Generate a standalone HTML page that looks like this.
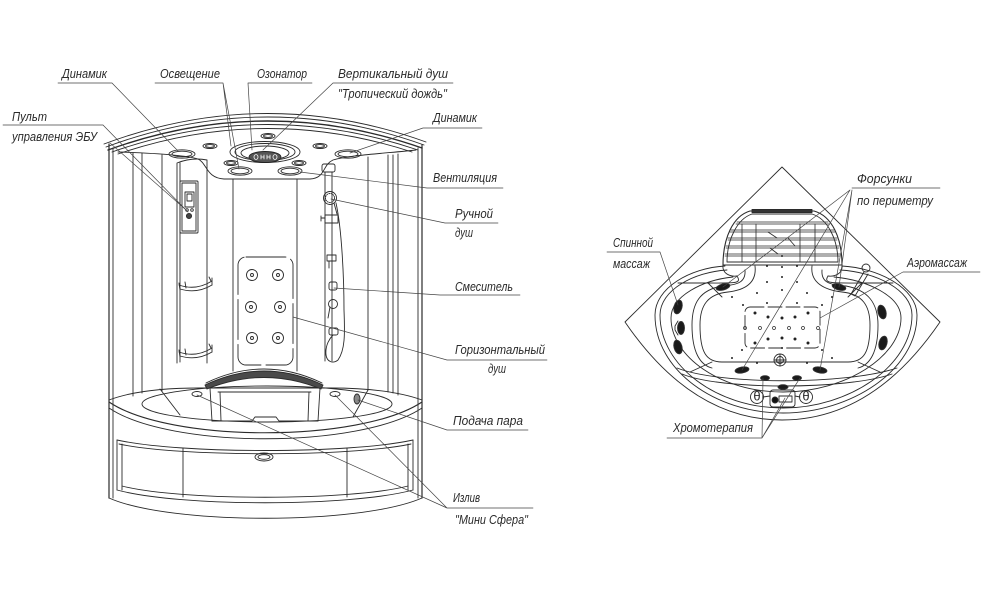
<!DOCTYPE html>
<html><head><meta charset="utf-8"><style>
html,body{margin:0;padding:0;background:#fff;}
svg{display:block}
text{font-family:"Liberation Sans Narrow","Liberation Sans",sans-serif;font-style:italic;font-size:13px;fill:#2a2a2a}
</style></head><body>
<svg width="1000" height="600" viewBox="0 0 1000 600" xmlns="http://www.w3.org/2000/svg">
<rect width="1000" height="600" fill="#fff"/>
<g fill="none" stroke="#2b2b2b" stroke-width="0.9" stroke-linejoin="round" stroke-linecap="round">
<!-- ===== CABIN ROOF ===== -->
<path d="M104,144 Q265,84 426,142"/>
<path d="M106,147 Q265,88 424,145"/>
<path d="M108,150 Q265,93 422,148" stroke-width="1.4"/>
<path d="M112,152 Q265,98 418,150"/>
<path d="M118,154 Q265,104 412,152"/>
<!-- ceiling front edge -->
<path d="M118,152 C 150,153 185,155 198,159 C 207,163 206,178 224,179 L 310,179 C 326,178 322,165 333,160 C 350,155 390,153 416,150"/>
<!-- ceiling elements -->
<ellipse cx="182" cy="154" rx="13" ry="4.2"/><ellipse cx="182" cy="154" rx="10" ry="2.8"/>
<ellipse cx="348" cy="154" rx="13" ry="4.2"/><ellipse cx="348" cy="154" rx="10" ry="2.8"/>
<ellipse cx="240" cy="171" rx="12" ry="4.2"/><ellipse cx="240" cy="171" rx="9" ry="2.8"/>
<ellipse cx="290" cy="171" rx="12" ry="4.2"/><ellipse cx="290" cy="171" rx="9" ry="2.8"/>
<ellipse cx="210" cy="146" rx="7" ry="2.5"/><ellipse cx="210" cy="146" rx="4.5" ry="1.4"/>
<ellipse cx="268" cy="136" rx="7" ry="2.5"/><ellipse cx="268" cy="136" rx="4.5" ry="1.4"/>
<ellipse cx="320" cy="146" rx="7" ry="2.5"/><ellipse cx="320" cy="146" rx="4.5" ry="1.4"/>
<ellipse cx="231" cy="163" rx="7" ry="2.5"/><ellipse cx="231" cy="163" rx="4.5" ry="1.4"/>
<ellipse cx="299" cy="163" rx="7" ry="2.5"/><ellipse cx="299" cy="163" rx="4.5" ry="1.4"/>
<!-- ozonator / tropical shower -->
<ellipse cx="265" cy="152" rx="35" ry="10.5"/>
<ellipse cx="265" cy="152" rx="30" ry="8.5"/>
<ellipse cx="265" cy="153" rx="24" ry="7"/>
<ellipse cx="265" cy="157" rx="16" ry="5.5" fill="#555" stroke="#222"/>
<g stroke="#fff" stroke-width="0.8"><ellipse cx="256" cy="157" rx="2" ry="2.4"/><line x1="261" y1="155" x2="261" y2="159"/><line x1="264" y1="155" x2="264" y2="159"/><line x1="261" y1="157" x2="264" y2="157"/><line x1="267" y1="155" x2="267" y2="159"/><line x1="270" y1="155" x2="270" y2="159"/><line x1="267" y1="157" x2="270" y2="157"/><ellipse cx="275" cy="157" rx="2" ry="2.4"/></g>
<!-- ===== CABIN VERTICALS ===== -->
<line x1="109" y1="144" x2="109" y2="498" stroke-width="1.2"/>
<line x1="113" y1="148" x2="113" y2="498"/>
<line x1="133" y1="153" x2="133" y2="396"/>
<line x1="142" y1="153" x2="142" y2="393"/>
<line x1="162" y1="155" x2="162" y2="391"/>
<path d="M177,363 L177,163 Q192,157 207,160 L207,363"/>
<line x1="180" y1="163" x2="180" y2="362"/>
<line x1="233" y1="179" x2="233" y2="371"/>
<line x1="297" y1="179" x2="297" y2="371"/>
<line x1="368" y1="157" x2="368" y2="390"/>
<line x1="388" y1="155" x2="388" y2="392"/>
<line x1="393" y1="155" x2="393" y2="393"/>
<line x1="398" y1="154" x2="398" y2="395"/>
<line x1="418" y1="148" x2="418" y2="498"/>
<line x1="422" y1="145" x2="422" y2="498" stroke-width="1.2"/>
<!-- console -->
<rect x="180" y="181" width="18" height="52" rx="1"/>
<rect x="182" y="183" width="14" height="48"/>
<rect x="185" y="192" width="9" height="15"/>
<rect x="187" y="194" width="5" height="7"/>
<circle cx="187" cy="210" r="1.3"/><circle cx="192" cy="210" r="1.3"/>
<circle cx="189" cy="216" r="2.6" fill="#444"/>
<!-- shelves -->
<path d="M179,285 Q196,291 212,281"/><path d="M180,289 Q197,294 212,285"/><path d="M179,283 L180,290 M212,278 L212,285 M209,277 L211,281 M185,282 L186,288"/>
<path d="M179,352 Q196,358 212,348"/><path d="M180,356 Q197,361 212,352"/><path d="M179,350 L180,357 M212,345 L212,352 M209,344 L211,348 M185,349 L186,355"/>
<!-- nozzle panel -->
<rect x="238" y="257" width="55" height="108" rx="8" stroke-dasharray="40 5"/>
<g>
<circle cx="252" cy="275" r="5.5"/><circle cx="252" cy="275" r="1.5"/>
<circle cx="278" cy="275" r="5.5"/><circle cx="278" cy="275" r="1.5"/>
<circle cx="251" cy="307" r="5.5"/><circle cx="251" cy="307" r="1.5"/>
<circle cx="280" cy="307" r="5.5"/><circle cx="280" cy="307" r="1.5"/>
<circle cx="252" cy="338" r="5.5"/><circle cx="252" cy="338" r="1.5"/>
<circle cx="278" cy="338" r="5.5"/><circle cx="278" cy="338" r="1.5"/>
</g>
<!-- shower rail -->
<rect x="322" y="164" width="13" height="8" rx="2"/>
<line x1="325" y1="172" x2="325" y2="361"/>
<line x1="332" y1="172" x2="332" y2="361"/>
<circle cx="330" cy="198" r="6.5"/><circle cx="330" cy="198" r="4.5" stroke-dasharray="1 1.2"/>
<path d="M334,203 L337,214"/>
<rect x="325" y="215" width="13" height="8"/><path d="M321,218 L325,218 M321,216 L321,221"/>
<rect x="327" y="255" width="9" height="6"/><line x1="329" y1="261" x2="329" y2="268"/>
<rect x="329" y="282" width="8" height="8" rx="2"/>
<circle cx="333" cy="304" r="4.5"/><path d="M330,307 L328,318"/>
<rect x="329" y="328" width="9" height="7" rx="2"/>
<path d="M336,203 C 342,230 344,280 344,310 C 345,335 345,350 338,360 C 333,364 327,362 326,355 C 325,345 330,338 333,335"/>
<!-- ===== TUB (left) ===== -->
<path d="M109,400 C 130,392 160,388 200,388 L 330,388 C 370,388 400,392 422,400"/>
<ellipse cx="267" cy="404" rx="125" ry="18"/>
<path d="M160,389 L180,415"/><path d="M368,390 L353,417"/>
<path d="M109,402 C 170,443 360,443 422,402" stroke-width="1.1"/>
<path d="M109,408 C 170,449 360,449 422,408"/>
<!-- seat -->
<path d="M205,385 Q264,357 323,385 L 321,389 Q264,366 207,389 Z" fill="#4a4a4a"/>
<path d="M206,383 Q264,355 322,383"/>
<path d="M210,388 L212,421 M320,388 L318,421 M220,392 L221,421 M309,392 L308,421 M218,392 L311,392"/>
<path d="M212,421 L252,421 L255,417 L276,417 L279,421 L318,421"/>
<ellipse cx="197" cy="394" rx="5" ry="2.5"/>
<ellipse cx="335" cy="394" rx="5" ry="2.5"/>
<ellipse cx="357" cy="399" rx="3" ry="5" fill="#888"/>
<!-- skirt -->
<path d="M117,440 C 180,454 350,454 413,440"/>
<path d="M119,444 C 180,457 350,457 411,444"/>
<path d="M117,440 L117,490 M122,444 L122,490 M413,440 L413,490 M408,444 L408,490"/>
<path d="M122,486 C 180,501 350,501 408,486"/>
<path d="M117,490 C 180,507 350,507 413,490"/>
<path d="M183,448 L183,497 M347,448 L347,497"/>
<path d="M109,498 C 170,525 360,525 422,498"/>
<ellipse cx="264" cy="457" rx="9" ry="4"/><ellipse cx="264" cy="457" rx="6" ry="2.3"/>
<!-- ===== LEFT LEADERS ===== -->
<g stroke-width="0.7" stroke="#444">
<path d="M58,83 L112,83 L178,151"/>
<path d="M155,83 L223,83 L231,146 M223,83 L239,169"/>
<path d="M248,83 L312,83 M248,83 L252,150"/>
<path d="M453,83 L333,83 L263,150"/>
<path d="M482,128 L423,128 L350,153"/>
<path d="M3,125 L103,125 L188,212"/>
<path d="M110,143 L185,209"/>
<path d="M503,188 L427,188 L300,172"/>
<path d="M498,223 L445,223 L331,199"/>
<path d="M520,295 L440,295 L334,288"/>
<path d="M547,360 L447,360 L293,317"/>
<path d="M528,430 L447,430 L358,400"/>
<path d="M533,508 L447,508 L197,395 M447,508 L335,395"/>
</g>
<!-- ===== RIGHT TUB ===== -->
<path d="M782,167 L625,322 C 668,385 720,420 782,420 C 845,420 897,385 940,322 Z"/>
<!-- backrest -->
<path d="M750,211 L814,211 C 832,216 842,238 842,265 L 723,265 C 723,238 733,216 750,211 Z" stroke-width="1.1"/>
<path d="M752,214 L812,214 C 828,219 838,240 838,262 L 727,262 C 727,240 737,219 752,214 Z"/>
<rect x="752" y="209.5" width="60" height="3" fill="#333"/>
<g stroke-width="0.8">
<path d="M737,222 L828,222 M736,224 L829,224"/>
<path d="M731,230 L834,230 M730,232 L835,232"/>
<path d="M728,238 L837,238 M728,240 L837,240"/>
<path d="M726,246 L839,246 M726,248 L839,248"/>
<path d="M725,254 L840,254 M725,256 L840,256"/>
<path d="M742,224 L742,262 M756,224 L756,262 M800,224 L800,262 M815,224 L815,262"/>
<path d="M768,232 L777,238 M788,238 L795,246 M770,248 L778,254"/>
</g>
<path d="M723,265 C 722,272 728,277 737,276 M842,265 C 843,272 837,277 828,276"/>
<!-- rims -->
<path d="M725,266 C 690,268 655,288 655,315 C 655,370 715,413 783,413 C 851,413 917,370 917,315 C 917,288 878,268 842,266"/>
<path d="M727,270 C 694,272 660,290 660,315 C 660,366 717,408 783,408 C 849,408 912,366 912,315 C 912,290 876,272 840,270"/>
<path d="M733,277 C 703,280 671,296 671,318 C 671,356 720,392 783,392 C 846,392 901,356 901,318 C 901,296 867,280 834,277"/>
<path d="M677,368 C 720,385 846,385 897,368"/>
<path d="M682,374 C 720,390 846,390 892,374"/>
<!-- bowl -->
<path d="M755,266 C 757,283 745,290 728,292 C 708,294 700,305 700,325 C 700,352 706,362 722,362 L 848,362 C 864,362 870,352 870,325 C 870,305 862,294 842,292 C 825,290 810,283 812,266"/>
<path d="M745,270 C 746,282 738,285 722,286 C 700,290 692,303 692,325 C 692,352 700,365 712,368"/>
<path d="M822,270 C 821,282 829,285 846,286 C 868,290 878,303 878,325 C 878,352 870,365 858,368"/>
<path d="M678,283 L708,283 L722,297 M893,283 L862,283 L848,297"/>
<path d="M737,276 C 742,284 735,283 708,283 M828,276 C 823,284 832,283 862,283"/>
<path d="M712,362 L690,372 M858,362 L880,372"/>
<!-- aero mat -->
<rect x="745" y="307" width="75" height="41" rx="5" stroke-dasharray="14 4"/>
<!-- jets -->
<g fill="#1a1a1a" stroke="#333">
<ellipse cx="678" cy="307" rx="4" ry="7" transform="rotate(15 678 307)"/>
<ellipse cx="681" cy="328" rx="3.5" ry="6.5"/>
<ellipse cx="678" cy="347" rx="4" ry="7" transform="rotate(-15 678 347)"/>
<ellipse cx="882" cy="312" rx="4" ry="7" transform="rotate(-15 882 312)"/>
<ellipse cx="883" cy="343" rx="4" ry="7" transform="rotate(15 883 343)"/>
<ellipse cx="723" cy="287" rx="7" ry="3" transform="rotate(-15 723 287)"/>
<ellipse cx="839" cy="287" rx="7" ry="3" transform="rotate(15 839 287)"/>
<ellipse cx="742" cy="370" rx="7" ry="3" transform="rotate(-10 742 370)"/>
<ellipse cx="820" cy="370" rx="7" ry="3" transform="rotate(10 820 370)"/>
<ellipse cx="765" cy="378" rx="4.5" ry="2.3"/>
<ellipse cx="797" cy="378" rx="4.5" ry="2.3"/>
<ellipse cx="783" cy="387" rx="5" ry="2.3"/>
</g>
<path d="M675,326 L678,321 M675,330 L678,335 M675,326 L675,330"/>
<!-- drain -->
<circle cx="780" cy="360" r="6"/><circle cx="780" cy="360" r="3.5"/><path d="M774,360 L786,360 M780,354 L780,366"/>
<!-- control panel -->
<rect x="770" y="390" width="25" height="17" rx="3"/>
<rect x="779" y="396" width="13" height="6"/>
<circle cx="775" cy="400" r="3" fill="#111"/>
<circle cx="757" cy="397" r="6.5"/><circle cx="806" cy="397" r="6.5"/>
<path d="M763,397 L770,396 M800,397 L795,396"/>
<!-- aero post -->
<circle cx="866" cy="268" r="4"/>
<path d="M864,272 L851,294 L855,296 L868,274"/>
<!-- dots -->
<g fill="#222" stroke="none">
<circle cx="782" cy="256" r="1"/><circle cx="767" cy="266" r="1"/><circle cx="782" cy="267" r="1"/><circle cx="797" cy="266" r="1"/>
<circle cx="767" cy="282" r="1"/><circle cx="782" cy="277" r="1"/><circle cx="797" cy="282" r="1"/>
<circle cx="757" cy="293" r="1"/><circle cx="807" cy="293" r="1"/><circle cx="782" cy="290" r="1"/>
<circle cx="732" cy="297" r="1"/><circle cx="832" cy="297" r="1"/>
<circle cx="743" cy="305" r="1"/><circle cx="767" cy="303" r="1"/><circle cx="797" cy="303" r="1"/><circle cx="822" cy="305" r="1"/>
<circle cx="755" cy="313" r="1.5"/><circle cx="768" cy="317" r="1.5"/><circle cx="782" cy="318" r="1.5"/><circle cx="795" cy="317" r="1.5"/><circle cx="808" cy="313" r="1.5"/>
<circle cx="755" cy="343" r="1.5"/><circle cx="768" cy="339" r="1.5"/><circle cx="782" cy="338" r="1.5"/><circle cx="795" cy="339" r="1.5"/><circle cx="808" cy="343" r="1.5"/>
<circle cx="742" cy="350" r="1"/><circle cx="782" cy="348" r="1"/><circle cx="822" cy="350" r="1"/>
<circle cx="732" cy="358" r="1"/><circle cx="757" cy="363" r="1"/><circle cx="807" cy="363" r="1"/><circle cx="832" cy="358" r="1"/>
</g>
<g stroke-width="0.7">
<circle cx="745" cy="328" r="1.5"/><circle cx="760" cy="328" r="1.5"/><circle cx="774" cy="328" r="1.5"/><circle cx="789" cy="328" r="1.5"/><circle cx="803" cy="328" r="1.5"/><circle cx="818" cy="328" r="1.5"/>
</g>
<!-- right leaders -->
<g stroke-width="0.7" stroke="#444">
<path d="M940,188 L852,188"/>
<path d="M850,190 L723,287 M850,190 L742,370 M852,190 L820,370 M852,190 L839,287"/>
<path d="M607,252 L660,252 L678,305"/>
<path d="M980,272 L903,272 L820,318"/>
<path d="M667,438 L762,438 L763,378 M762,438 L800,378 M762,438 L785,398"/>
</g>
</g>
<!-- θ marks -->
<text x="757" y="400.5" font-size="9" text-anchor="middle" style="font-style:normal">θ</text>
<text x="806" y="400.5" font-size="9" text-anchor="middle" style="font-style:normal">θ</text>
<!-- ===== LABELS ===== -->
<text x="62" y="78" textLength="45" lengthAdjust="spacingAndGlyphs">Динамик</text>
<text x="160" y="78" textLength="60" lengthAdjust="spacingAndGlyphs">Освещение</text>
<text x="257" y="78" textLength="50" lengthAdjust="spacingAndGlyphs">Озонатор</text>
<text x="338" y="78" textLength="110" lengthAdjust="spacingAndGlyphs">Вертикальный душ</text>
<text x="338" y="98" textLength="109" lengthAdjust="spacingAndGlyphs">"Тропический дождь"</text>
<text x="433" y="122" textLength="44" lengthAdjust="spacingAndGlyphs">Динамик</text>
<text x="12" y="121" textLength="35" lengthAdjust="spacingAndGlyphs">Пульт</text>
<text x="12" y="141" textLength="85" lengthAdjust="spacingAndGlyphs">управления ЭБУ</text>
<text x="433" y="182" textLength="64" lengthAdjust="spacingAndGlyphs">Вентиляция</text>
<text x="455" y="218" textLength="38" lengthAdjust="spacingAndGlyphs">Ручной</text>
<text x="455" y="237" textLength="18" lengthAdjust="spacingAndGlyphs">душ</text>
<text x="455" y="291" textLength="58" lengthAdjust="spacingAndGlyphs">Смеситель</text>
<text x="455" y="354" textLength="90" lengthAdjust="spacingAndGlyphs">Горизонтальный</text>
<text x="488" y="373" textLength="18" lengthAdjust="spacingAndGlyphs">душ</text>
<text x="453" y="425" textLength="70" lengthAdjust="spacingAndGlyphs">Подача пара</text>
<text x="453" y="502" textLength="27" lengthAdjust="spacingAndGlyphs">Излив</text>
<text x="455" y="524" textLength="73" lengthAdjust="spacingAndGlyphs">"Мини Сфера"</text>
<text x="857" y="183" textLength="55" lengthAdjust="spacingAndGlyphs">Форсунки</text>
<text x="857" y="205" textLength="76" lengthAdjust="spacingAndGlyphs">по периметру</text>
<text x="613" y="247" textLength="40" lengthAdjust="spacingAndGlyphs">Спинной</text>
<text x="613" y="268" textLength="37" lengthAdjust="spacingAndGlyphs">массаж</text>
<text x="907" y="267" textLength="60" lengthAdjust="spacingAndGlyphs">Аэромассаж</text>
<text x="673" y="432" textLength="80" lengthAdjust="spacingAndGlyphs">Хромотерапия</text>
</svg>
</body></html>
